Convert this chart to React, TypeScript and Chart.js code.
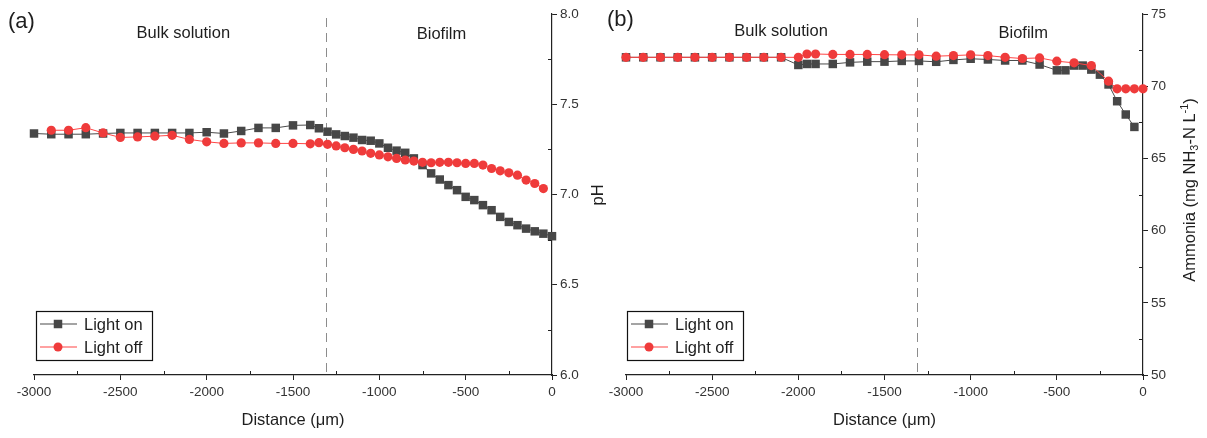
import React, { useEffect, useRef } from 'react';
import { Chart, registerables } from 'chart.js';

Chart.register(...registerables);

const FONT = '"Liberation Sans", Arial, Helvetica, sans-serif';

// ---------- Panel (a): pH ----------
const phOnDistance = [
  -3000, -2900, -2800, -2700, -2600, -2500, -2400, -2300, -2200, -2100, -2000, -1900, -1800, -1700, -1600, -1500, -1400,
  -1350, -1300, -1250, -1200, -1150, -1100, -1050, -1000, -950, -900, -850, -800, -750, -700, -650, -600, -550, -500,
  -450, -400, -350, -300, -250, -200, -150, -100, -50, 0,
];
const phOnValues = [
  7.338, 7.334, 7.334, 7.334, 7.338, 7.341, 7.341, 7.341, 7.341, 7.341, 7.345, 7.338, 7.352, 7.369, 7.369, 7.383, 7.385,
  7.367, 7.348, 7.333, 7.324, 7.315, 7.302, 7.298, 7.283, 7.259, 7.243, 7.231, 7.2, 7.163, 7.117, 7.083, 7.052, 7.024,
  6.987, 6.969, 6.941, 6.913, 6.876, 6.848, 6.83, 6.811, 6.796, 6.783, 6.769,
];
const phOffDistance = [
  -2900, -2800, -2700, -2600, -2500, -2400, -2300, -2200, -2100, -2000, -1900, -1800, -1700, -1600, -1500, -1400,
  -1350, -1300, -1250, -1200, -1150, -1100, -1050, -1000, -950, -900, -850, -800, -750, -700, -650, -600, -550, -500,
  -450, -400, -350, -300, -250, -200, -150, -100, -50,
];
const phOffValues = [
  7.356, 7.356, 7.37, 7.341, 7.316, 7.319, 7.323, 7.328, 7.305, 7.292, 7.283, 7.286, 7.286, 7.283, 7.283, 7.281,
  7.287, 7.278, 7.269, 7.259, 7.25, 7.241, 7.228, 7.219, 7.209, 7.2, 7.191, 7.185, 7.178, 7.176, 7.178, 7.178, 7.176,
  7.172, 7.172, 7.163, 7.144, 7.131, 7.12, 7.107, 7.08, 7.061, 7.033,
];
const phTicks = [6.0, 6.5, 7.0, 7.5, 8.0];

// ---------- Panel (b): Ammonia ----------
const ammOnDistance = [
  -3000, -2900, -2800, -2700, -2600, -2500, -2400, -2300, -2200, -2100, -2000, -1950, -1900, -1800, -1700, -1600, -1500,
  -1400, -1300, -1200, -1100, -1000, -900, -800, -700, -600, -500, -450, -400, -350, -300, -250, -200, -150, -100, -50,
];
const ammOnValues = [
  72.0, 72.0, 72.0, 72.0, 72.0, 72.0, 72.0, 72.0, 72.0, 72.0, 71.47, 71.54, 71.54, 71.54, 71.65, 71.7, 71.7,
  71.75, 71.75, 71.69, 71.82, 71.9, 71.85, 71.78, 71.78, 71.5, 71.1, 71.1, 71.43, 71.43, 71.15, 70.8, 70.12, 68.96,
  68.04, 67.18,
];
const ammOffDistance = [
  -3000, -2900, -2800, -2700, -2600, -2500, -2400, -2300, -2200, -2100, -2000, -1950, -1900, -1800, -1700, -1600, -1500,
  -1400, -1300, -1200, -1100, -1000, -900, -800, -700, -600, -500, -400, -300, -200, -150, -100, -50, 0,
];
const ammOffValues = [
  72.0, 72.0, 72.0, 72.0, 72.0, 72.0, 72.0, 72.0, 72.0, 72.0, 72.0, 72.23, 72.23, 72.2, 72.2, 72.2, 72.18,
  72.17, 72.17, 72.08, 72.12, 72.17, 72.12, 72.0, 71.92, 71.96, 71.73, 71.62, 71.43, 70.35, 69.82, 69.82, 69.82, 69.82,
];
const ammTicks = [50, 55, 60, 65, 70, 75];

// ---------- shared ----------
const distanceTicks = [-3000, -2500, -2000, -1500, -1000, -500, 0];
const seriesNames = ['Light on', 'Light off'];
const regionLabels = ['Bulk solution', 'Biofilm'];
const xTitle = 'Distance (\u03bcm)';
const biofilmBoundary = -1310;

const GRAY = '#474747';
const GRAY_LINE = '#4a4a4a';
const RED = '#ef3b3b';
const RED_LINE = '#ff4545';
const TEXT = '#1e1e1e';
const TICK_TEXT = '#333333';

type Seg = { text: string; kind?: 'sub' | 'sup' };

interface PanelCfg {
  width: number;
  padLeft: number;
  axisWidth: number;
  tag: string;
  tagX: number;
  tagY: number;
  yTicks: number[];
  yDecimals: number;
  yTitle: Seg[];
  yTitleX: number;
  yTitleY: number;
  on: { x: number; y: number }[];
  off: { x: number; y: number }[];
  bulkX: number;
  bioX: number;
  bulkY: number;
  bioY: number;
  legendDx: number;
}

function zip(xs: number[], ys: number[]) {
  return xs.map((x, i) => ({ x, y: ys[i] }));
}

function drawRich(ctx: CanvasRenderingContext2D, segs: Seg[], cx: number, cy: number, size: number) {
  const base = `${size}px ${FONT}`;
  const small = `${size * 0.66}px ${FONT}`;
  let total = 0;
  const widths = segs.map((s) => {
    ctx.font = s.kind ? small : base;
    const w = ctx.measureText(s.text).width;
    total += w;
    return w;
  });
  ctx.save();
  ctx.translate(cx, cy);
  ctx.rotate(-Math.PI / 2);
  ctx.textBaseline = 'middle';
  ctx.textAlign = 'left';
  ctx.fillStyle = TEXT;
  let x = -total / 2;
  segs.forEach((s, i) => {
    ctx.font = s.kind ? small : base;
    const dy = s.kind === 'sub' ? size * 0.3 : s.kind === 'sup' ? -size * 0.33 : 0;
    ctx.fillText(s.text, x, dy);
    x += widths[i];
  });
  ctx.restore();
}

const decorPlugin = {
  id: 'decor',
  beforeDatasetsDraw(chart: any) {
    const { ctx, chartArea: ca, scales } = chart;
    const bx = scales.x.getPixelForValue(biofilmBoundary);
    ctx.save();
    ctx.strokeStyle = '#8c8c8c';
    ctx.lineWidth = 1;
    ctx.setLineDash([9, 6]);
    ctx.beginPath();
    ctx.moveTo(Math.round(bx) + 0.5, ca.top + 4);
    ctx.lineTo(Math.round(bx) + 0.5, ca.bottom);
    ctx.stroke();
    ctx.restore();
  },
  afterDraw(chart: any, _args: any, opts: any) {
    const cfg: PanelCfg = opts.cfg;
    const { ctx, chartArea: ca, scales } = chart;
    const xs = scales.x;
    const ys = scales.y;
    ctx.save();
    // minor ticks (inward)
    ctx.strokeStyle = '#222';
    ctx.lineWidth = 1;
    ctx.beginPath();
    for (let i = 0; i < distanceTicks.length - 1; i++) {
      const px = Math.round(xs.getPixelForValue((distanceTicks[i] + distanceTicks[i + 1]) / 2)) + 0.5;
      ctx.moveTo(px, ca.bottom);
      ctx.lineTo(px, ca.bottom - 4);
    }
    for (let i = 0; i < cfg.yTicks.length - 1; i++) {
      const py = Math.round(ys.getPixelForValue((cfg.yTicks[i] + cfg.yTicks[i + 1]) / 2)) + 0.5;
      ctx.moveTo(ca.right, py);
      ctx.lineTo(ca.right - 4, py);
    }
    ctx.stroke();

    // region labels
    ctx.fillStyle = TEXT;
    ctx.font = `16.5px ${FONT}`;
    ctx.textAlign = 'center';
    ctx.textBaseline = 'middle';
    ctx.fillText(regionLabels[0], xs.getPixelForValue(cfg.bulkX), cfg.bulkY);
    ctx.fillText(regionLabels[1], xs.getPixelForValue(cfg.bioX), cfg.bioY);

    // panel tag
    ctx.font = `22px ${FONT}`;
    ctx.textAlign = 'left';
    ctx.fillText(cfg.tag, cfg.tagX, cfg.tagY);

    // y title
    drawRich(ctx, cfg.yTitle, cfg.yTitleX, cfg.yTitleY, 16.5);

    // legend
    const lx = ca.left + cfg.legendDx;
    const ly = ca.bottom - 64;
    ctx.strokeStyle = '#111';
    ctx.lineWidth = 1.2;
    ctx.strokeRect(lx + 0.5, ly + 0.5, 116, 49);
    const rows = [
      { name: seriesNames[0], line: GRAY_LINE, fill: GRAY, shape: 'rect', y: ly + 13 },
      { name: seriesNames[1], line: RED_LINE, fill: RED, shape: 'circle', y: ly + 36 },
    ];
    rows.forEach((r) => {
      ctx.strokeStyle = r.line;
      ctx.lineWidth = 1.2;
      ctx.beginPath();
      ctx.moveTo(lx + 4, r.y);
      ctx.lineTo(lx + 41, r.y);
      ctx.stroke();
      ctx.fillStyle = r.fill;
      const mx = lx + 22;
      if (r.shape === 'rect') {
        ctx.fillRect(mx - 4.25, r.y - 4.25, 8.5, 8.5);
      } else {
        ctx.beginPath();
        ctx.arc(mx, r.y, 4.5, 0, Math.PI * 2);
        ctx.fill();
      }
      ctx.fillStyle = TEXT;
      ctx.font = `16.5px ${FONT}`;
      ctx.textAlign = 'left';
      ctx.textBaseline = 'middle';
      ctx.fillText(r.name, lx + 48, r.y + 1);
    });
    ctx.restore();
  },
};

function makeChart(canvas: HTMLCanvasElement, cfg: PanelCfg) {
  const yMin = cfg.yTicks[0];
  const yMax = cfg.yTicks[cfg.yTicks.length - 1];
  return new Chart(canvas, {
    type: 'line',
    data: {
      datasets: [
        {
          label: seriesNames[0],
          data: cfg.on,
          borderColor: GRAY_LINE,
          backgroundColor: GRAY,
          pointBackgroundColor: GRAY,
          pointBorderColor: GRAY,
          pointBorderWidth: 0,
          pointStyle: 'rect',
          pointRadius: 6,
          borderWidth: 1,
          tension: 0,
          clip: false,
          order: 2,
        },
        {
          label: seriesNames[1],
          data: cfg.off,
          borderColor: RED_LINE,
          backgroundColor: RED,
          pointBackgroundColor: RED,
          pointBorderColor: RED,
          pointBorderWidth: 0,
          pointStyle: 'circle',
          pointRadius: 4.6,
          borderWidth: 1,
          tension: 0,
          clip: false,
          order: 1,
        },
      ],
    },
    options: {
      responsive: false,
      animation: false,
      events: [],
      layout: { padding: { left: cfg.padLeft, top: 14, right: 0, bottom: 0 } },
      plugins: {
        legend: { display: false },
        tooltip: { enabled: false },
        decor: { cfg },
      } as any,
      scales: {
        x: {
          type: 'linear',
          position: 'bottom',
          min: distanceTicks[0],
          max: distanceTicks[distanceTicks.length - 1],
          afterBuildTicks: (s: any) => {
            s.ticks = distanceTicks.map((v) => ({ value: v }));
          },
          afterFit: (s: any) => {
            s.height = 63;
          },
          ticks: {
            autoSkip: false,
            maxRotation: 0,
            padding: 4,
            color: TICK_TEXT,
            font: { family: FONT, size: 13.5 },
            callback: (v: any) => String(v),
          },
          grid: { drawOnChartArea: false, drawTicks: true, tickLength: 5, color: '#222' },
          border: { display: true, color: '#222', width: 1.2 },
          title: {
            display: true,
            text: xTitle,
            color: TEXT,
            font: { family: FONT, size: 16.5 },
            padding: { top: 0, bottom: 8 },
          },
        },
        y: {
          type: 'linear',
          position: 'right',
          min: yMin,
          max: yMax,
          afterBuildTicks: (s: any) => {
            s.ticks = cfg.yTicks.map((v) => ({ value: v }));
          },
          afterFit: (s: any) => {
            s.width = cfg.axisWidth;
          },
          ticks: {
            autoSkip: false,
            padding: 3,
            color: TICK_TEXT,
            font: { family: FONT, size: 13.5 },
            callback: (v: any) => Number(v).toFixed(cfg.yDecimals),
          },
          grid: { drawOnChartArea: false, drawTicks: true, tickLength: 5, color: '#222' },
          border: { display: true, color: '#222', width: 1.2 },
        },
      },
    } as any,
    plugins: [decorPlugin as any],
  });
}

const panelA: PanelCfg = {
  width: 615,
  padLeft: 34,
  axisWidth: 63,
  tag: '(a)',
  tagX: 8,
  tagY: 22,
  yTicks: phTicks,
  yDecimals: 1,
  yTitle: [{ text: 'pH' }],
  yTitleX: 598,
  yTitleY: 195,
  on: zip(phOnDistance, phOnValues),
  off: zip(phOffDistance, phOffValues),
  bulkX: -2135,
  bioX: -640,
  bulkY: 33,
  bioY: 34,
  legendDx: 2,
};

const panelB: PanelCfg = {
  width: 612,
  padLeft: 31,
  axisWidth: 64,
  tag: '(b)',
  tagX: 12,
  tagY: 20,
  yTicks: ammTicks,
  yDecimals: 0,
  yTitle: [
    { text: 'Ammonia (mg NH' },
    { text: '3', kind: 'sub' },
    { text: '-N L' },
    { text: '-1', kind: 'sup' },
    { text: ')' },
  ],
  yTitleX: 595,
  yTitleY: 190,
  on: zip(ammOnDistance, ammOnValues),
  off: zip(ammOffDistance, ammOffValues),
  bulkX: -2100,
  bioX: -695,
  bulkY: 31,
  bioY: 33,
  legendDx: 1,
};

function Panel({ cfg, left }: { cfg: PanelCfg; left: number }) {
  const ref = useRef<HTMLCanvasElement | null>(null);
  useEffect(() => {
    if (!ref.current) return;
    const chart = makeChart(ref.current, cfg);
    return () => chart.destroy();
  }, [cfg]);
  return (
    <canvas
      ref={ref}
      width={cfg.width}
      height={438}
      style={{ position: 'absolute', left, top: 0, width: cfg.width, height: 438 }}
    />
  );
}

export default function App() {
  return (
    <div
      style={{
        position: 'absolute',
        left: 0,
        top: 0,
        width: 1207,
        height: 438,
        background: '#ffffff',
        overflow: 'hidden',
      }}
    >
      <Panel cfg={panelA} left={0} />
      <Panel cfg={panelB} left={595} />
    </div>
  );
}
